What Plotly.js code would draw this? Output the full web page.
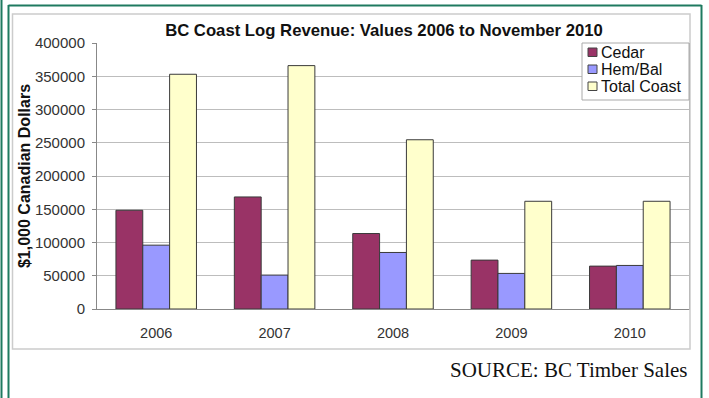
<!DOCTYPE html>
<html>
<head>
<meta charset="utf-8">
<script src="https://cdn.plot.ly/plotly-3.0.1.min.js"></script>
<style>
  html, body { margin: 0; padding: 0; background: #fff; }
  #chart { width: 709px; height: 398px; }
</style>
</head>
<body>
<div id="chart"></div>
<script>
const years = ['2006', '2007', '2008', '2009', '2010'];
const cedar = [148500, 168500, 113500, 73500, 64500];
const hemBal = [96000, 51000, 85000, 53500, 65500];
const totalCoast = [353000, 366000, 254500, 162000, 162000];
const seriesNames = ['Cedar', 'Hem/Bal', 'Total Coast'];
const yTicks = [0, 50000, 100000, 150000, 200000, 250000, 300000, 350000, 400000];

const L = 97, R = 689, T = 43, B = 309;
const px = x => (x - L) / (R - L);
const py = y => (B - y) / (B - T);

const colors = ['#993366', '#9999FF', '#FFFFCC'];
const data = [cedar, hemBal, totalCoast].map((vals, i) => ({
  type: 'bar',
  name: seriesNames[i],
  x: years,
  y: vals,
  showlegend: false,
  marker: { color: colors[i], line: { color: '#3a3a3a', width: 1 } }
}));

const green = '#1f7a60';
const shapes = [
  // green frame
  { type: 'line', xref: 'paper', yref: 'paper', x0: px(1.5), x1: px(1.5), y0: py(0), y1: py(398), line: { color: green, width: 2 } },
  { type: 'line', xref: 'paper', yref: 'paper', x0: px(8.5), x1: px(8.5), y0: py(5), y1: py(398), line: { color: green, width: 2 } },
  { type: 'line', xref: 'paper', yref: 'paper', x0: px(8.5), x1: px(701.5), y0: py(5.5), y1: py(5.5), line: { color: green, width: 2 } },
  { type: 'line', xref: 'paper', yref: 'paper', x0: px(701.5), x1: px(701.5), y0: py(5), y1: py(398), line: { color: green, width: 2 } },
  // chart border
  { type: 'rect', xref: 'paper', yref: 'paper', x0: px(12.5), x1: px(690), y0: py(14), y1: py(349), line: { color: '#cccccc', width: 1.5 } },
  // legend box
  { type: 'rect', xref: 'paper', yref: 'paper', x0: px(582), x1: px(689), y0: py(43), y1: py(100), fillcolor: '#ffffff', line: { color: '#aaaaaa', width: 1 }, layer: 'above' }
];

const annotations = [{
  xref: 'paper', yref: 'paper', x: px(689), y: py(370),
  xanchor: 'right', yanchor: 'middle', showarrow: false,
  text: 'SOURCE: BC Timber Sales',
  font: { family: 'Liberation Serif, Times New Roman, serif', size: 21, color: '#111' }
}];

const legendRows = [52, 69, 86];
seriesNames.forEach((name, i) => {
  const yc = legendRows[i];
  shapes.push({ type: 'rect', xref: 'paper', yref: 'paper',
    x0: px(588), x1: px(597), y0: py(yc - 4), y1: py(yc + 4.5),
    fillcolor: colors[i], line: { color: '#444', width: 1 }, layer: 'above' });
  annotations.push({ xref: 'paper', yref: 'paper', x: px(599), y: py(yc),
    xanchor: 'left', yanchor: 'middle', showarrow: false, text: name,
    font: { size: 16, color: '#111' } });
});

const layout = {
  width: 709,
  height: 398,
  margin: { l: L, r: 709 - R, t: T, b: 398 - B },
  paper_bgcolor: '#ffffff',
  plot_bgcolor: '#ffffff',
  font: { family: 'Liberation Sans, Arial, sans-serif', size: 12, color: '#222' },
  title: {
    text: '<b>BC Coast Log Revenue: Values 2006 to November 2010</b>',
    font: { size: 16.7, color: '#111' },
    x: 384 / 709, xanchor: 'center', xref: 'container',
    y: 1 - 30 / 398, yanchor: 'middle', yref: 'container'
  },
  barmode: 'group',
  bargap: 0.32,
  bargroupgap: 0,
  showlegend: false,
  xaxis: {
    type: 'category',
    showgrid: false,
    showline: true, linecolor: '#888', linewidth: 1,
    ticks: '', tickfont: { size: 14.5, color: '#333' },
    ticklabelstandoff: 11
  },
  yaxis: {
    range: [0, 400000],
    tickvals: yTicks,
    ticktext: yTicks.map(v => String(v)),
    showgrid: true, gridcolor: '#bdbdbd', gridwidth: 1,
    showline: true, mirror: true, linecolor: '#888', linewidth: 1,
    ticks: 'outside', ticklen: 4, tickcolor: '#888',
    tickfont: { size: 15, color: '#333' },
    ticklabelstandoff: 4,
    zeroline: false,
    title: { text: '<b>$1,000 Canadian Dollars</b>', font: { size: 16, color: '#111' }, standoff: 0 }
  },
  shapes: shapes,
  annotations: annotations
};

Plotly.newPlot('chart', data, layout, { displayModeBar: false, staticPlot: true });
</script>
</body>
</html>
